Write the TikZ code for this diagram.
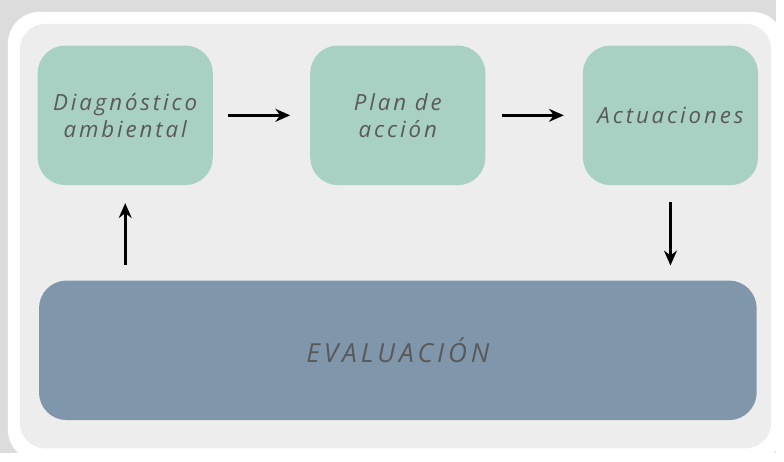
\documentclass[tikz,border=0pt]{standalone}
\usepackage{fontspec}
\setmainfont{Open Sans}
\newfontfamily\spacedfont[LetterSpace=13]{Open Sans}
\newfontfamily\widefont[LetterSpace=15]{Open Sans}
\usepackage{xcolor}
\usetikzlibrary{arrows.meta,positioning}

\definecolor{framegray}{HTML}{DCDCDC}
\definecolor{panelgray}{HTML}{ECEDEC}
\definecolor{stepgreen}{HTML}{A9D1C3}
\definecolor{evalblue}{HTML}{8096AB}
\definecolor{textgray}{HTML}{595959}

\begin{document}
\begin{tikzpicture}[
    x=1pt, y=-1pt,
    node distance=96pt and 98pt,
    stepbox/.style={rectangle, fill=stepgreen, rounded corners=28pt, align=center, minimum height=141pt, minimum width=177pt, text=textgray, font=\spacedfont\itshape\fontsize{22.5}{27}\selectfont},
    evalbox/.style={rectangle, fill=evalblue, rounded corners=28pt, align=center, minimum height=141pt, minimum width=725pt, text=textgray, font=\widefont\itshape\fontsize{26.5}{30}\selectfont},
    arr/.style={-{Stealth[length=15pt, width=13pt]}, line width=2.6pt, draw=black}
]
    % frame and panel
    \fill [framegray] (0,0) rectangle (784,458);
    \fill [white, rounded corners=32pt] (8,12) rectangle (792,466);
    \fill [panelgray, rounded corners=26pt] (20,24) rectangle (779,453);
    \useasboundingbox (0,0) rectangle (784,458);

    % steps
    \node [stepbox] (diag) at (126.5,116.5) {Diagnóstico\\ambiental};
    \node [stepbox, right=of diag] (plan) {Plan de\\acción};
    \node [stepbox, right=of plan] (actu) {Actuaciones};
    \node [evalbox, below=of plan] (eval) {EVALUACIÓN};

    % arrow ends near the evaluation box
    \coordinate (evaltop) at ([yshift=15pt]eval.north);
    \coordinate (diagin) at (diag.south |- evaltop);
    \coordinate (actuout) at (actu.south |- evaltop);

    \draw [arr] ([xshift=15pt]diag.east) -- ([xshift=-20pt]plan.west);
    \draw [arr] ([xshift=17pt]plan.east) -- ([xshift=-19pt]actu.west);
    \draw [arr] ([yshift=-17pt]actu.south) -- (actuout);
    \draw [arr] (diagin) -- ([yshift=-18pt]diag.south);
\end{tikzpicture}
\end{document}
